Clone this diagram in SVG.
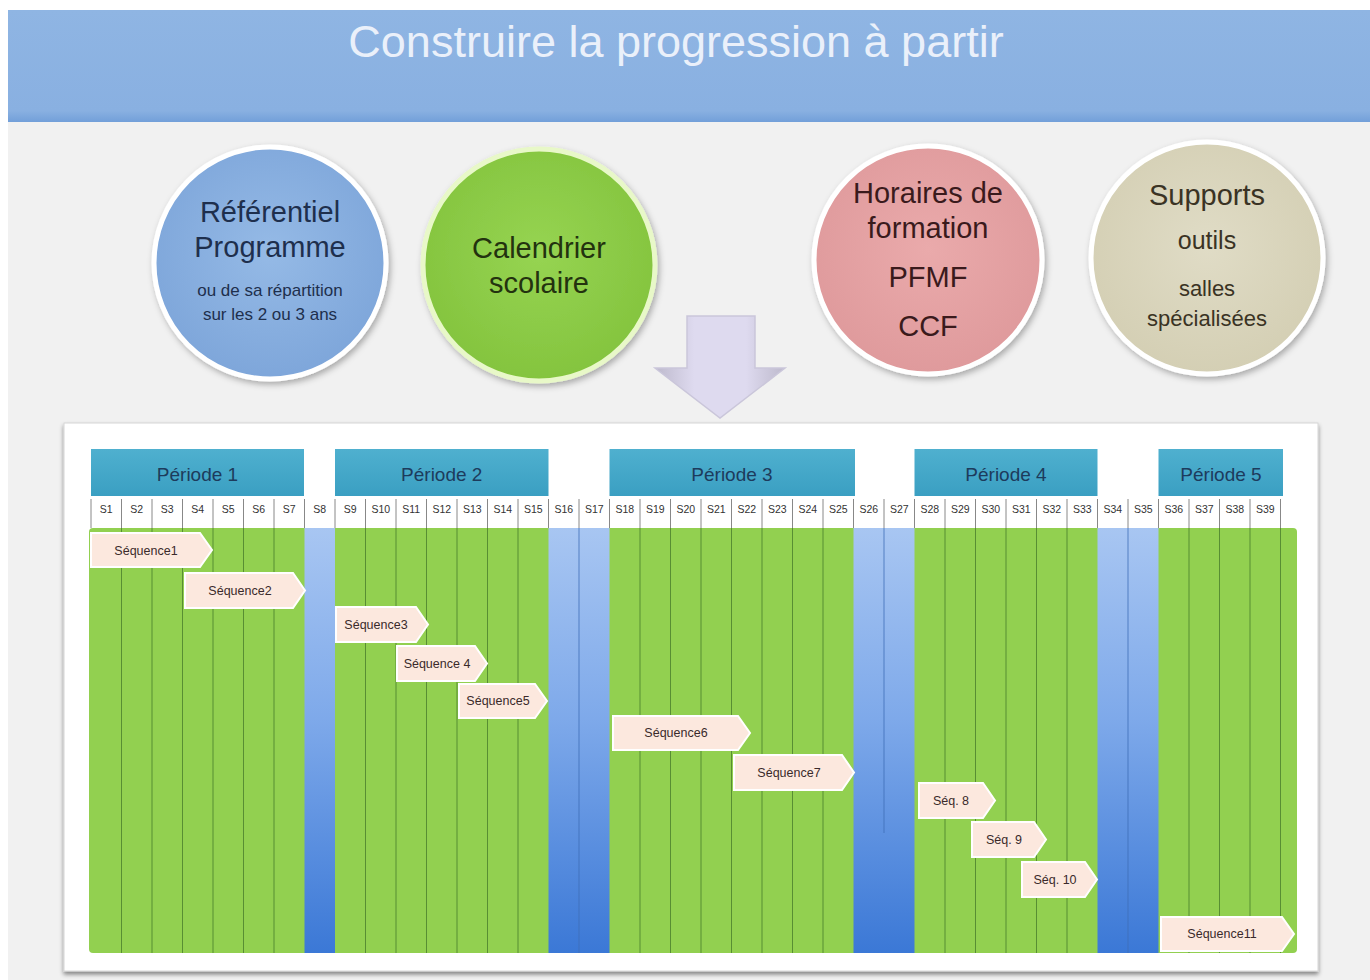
<svg xmlns="http://www.w3.org/2000/svg" width="1370" height="980" viewBox="0 0 1370 980">
<style>
.big{font-family:"Liberation Sans",Arial,sans-serif;font-size:29px;text-anchor:middle}
.small{font-family:"Liberation Sans",Arial,sans-serif;font-size:17px;text-anchor:middle}
.per{font-family:"Liberation Sans",Arial,sans-serif;font-size:19px;fill:#1d3b5c;text-anchor:middle}
.wk{font-family:"Liberation Sans",Arial,sans-serif;font-size:10.5px;fill:#333;text-anchor:middle}
.seqt{font-family:"Liberation Sans",Arial,sans-serif;font-size:12.5px;fill:#3a2a2a;text-anchor:middle}
.seq{fill:#fce8de;stroke:#ffffff;stroke-width:2}
.phead{fill:url(#gPer)}
.blue{fill:url(#gBlue)}
.ln{stroke:#4a7d2c;stroke-width:1;stroke-opacity:0.8}
.lnw{stroke:#888;stroke-width:1}
</style>
<defs>
<filter id="sh" x="-20%" y="-20%" width="140%" height="140%">
<feDropShadow dx="2" dy="3" stdDeviation="3" flood-color="#000" flood-opacity="0.3"/>
</filter>
<filter id="sh2" x="-5%" y="-5%" width="110%" height="110%">
<feDropShadow dx="0" dy="3" stdDeviation="2" flood-color="#000" flood-opacity="0.45"/>
</filter>
<radialGradient id="gB" cx="50%" cy="45%" r="55%"><stop offset="0" stop-color="#95bae6"/><stop offset="1" stop-color="#7ea6da"/></radialGradient>
<radialGradient id="gG" cx="50%" cy="45%" r="55%"><stop offset="0" stop-color="#96d452"/><stop offset="1" stop-color="#84c43e"/></radialGradient>
<radialGradient id="gP" cx="50%" cy="45%" r="55%"><stop offset="0" stop-color="#eaaaab"/><stop offset="1" stop-color="#df9a9c"/></radialGradient>
<radialGradient id="gS" cx="50%" cy="45%" r="55%"><stop offset="0" stop-color="#e0dcc6"/><stop offset="1" stop-color="#d4cfb4"/></radialGradient>
<linearGradient id="gPer" x1="0" y1="0" x2="0" y2="1"><stop offset="0" stop-color="#4fb0cf"/><stop offset="1" stop-color="#3a9fc2"/></linearGradient>
<linearGradient id="gBlue" x1="0" y1="0" x2="0" y2="1"><stop offset="0" stop-color="#a8c6f2"/><stop offset="0.45" stop-color="#7ea9ea"/><stop offset="1" stop-color="#3b78d6"/></linearGradient>
<linearGradient id="gArr" x1="0" y1="0" x2="1" y2="0"><stop offset="0" stop-color="#bdb9cc"/><stop offset="0.3" stop-color="#dedaef"/><stop offset="0.7" stop-color="#dedaef"/><stop offset="1" stop-color="#bdb9cc"/></linearGradient>
<linearGradient id="gTitle" x1="0" y1="0" x2="0" y2="1"><stop offset="0" stop-color="#8fb5e3"/><stop offset="0.9" stop-color="#89b0e1"/><stop offset="1" stop-color="#729fd9"/></linearGradient>
</defs>

<rect x="0" y="0" width="1370" height="980" fill="#ffffff"/>
<rect x="8" y="10" width="1362" height="970" fill="#f1f1f1"/>

<g id="title">
<rect x="8" y="10" width="1362" height="112" fill="url(#gTitle)"/>
<text x="676" y="57" style="font-family:'Liberation Sans',Arial,sans-serif;font-size:45px;fill:#eaf0fa;text-anchor:middle">Construire la progression à partir</text>
</g>

<g id="node-referentiel">
<circle cx="270" cy="263" r="116" fill="url(#gB)" stroke="#ffffff" stroke-width="5" filter="url(#sh)"/>
<text class="big" x="270" y="222" fill="#1e2f4d">Référentiel</text>
<text class="big" x="270" y="257" fill="#1e2f4d">Programme</text>
<text class="small" x="270" y="296" fill="#1e2f4d">ou de sa répartition</text>
<text class="small" x="270" y="320" fill="#1e2f4d">sur les 2 ou 3 ans</text>
</g>

<g id="node-calendrier">
<circle cx="539" cy="265" r="116" fill="url(#gG)" stroke="#e8f8c8" stroke-width="5" filter="url(#sh)"/>
<text class="big" x="539" y="258" fill="#23320f">Calendrier</text>
<text class="big" x="539" y="293" fill="#23320f">scolaire</text>
</g>

<g id="node-horaires">
<circle cx="928" cy="260" r="114" fill="url(#gP)" stroke="#ffffff" stroke-width="5" filter="url(#sh)"/>
<text class="big" x="928" y="203" fill="#3a1a1c">Horaires de</text>
<text class="big" x="928" y="238" fill="#3a1a1c">formation</text>
<text class="big" x="928" y="287" fill="#3a1a1c">PFMF</text>
<text class="big" x="928" y="336" fill="#3a1a1c">CCF</text>
</g>

<g id="node-supports">
<circle cx="1207" cy="258" r="116" fill="url(#gS)" stroke="#ffffff" stroke-width="5" filter="url(#sh)"/>
<text class="big" x="1207" y="205" fill="#3a3324">Supports</text>
<text x="1207" y="249" style="font-family:'Liberation Sans',Arial,sans-serif;font-size:25px;text-anchor:middle;fill:#3a3324">outils</text>
<text x="1207" y="296" style="font-family:'Liberation Sans',Arial,sans-serif;font-size:22px;text-anchor:middle;fill:#3a3324">salles</text>
<text x="1207" y="326" style="font-family:'Liberation Sans',Arial,sans-serif;font-size:22px;text-anchor:middle;fill:#3a3324">spécialisées</text>
</g>

<g id="connectors">
<path d="M687,316 H755 V368 H785 L720,418 L655,368 H687 Z" fill="url(#gArr)" stroke="#cac6da" stroke-width="1.5"/>
</g>

<g id="panel">
<rect x="64" y="423" width="1254" height="548" fill="#ffffff" stroke="#d6d6d6" stroke-width="1" filter="url(#sh2)"/>
</g>

<g id="weeks-grid">
<rect x="89" y="528" width="1208" height="425" rx="4" fill="#92d050"/>
<rect class="blue" x="304.5" y="528" width="30.5" height="425"/>
<rect class="blue" x="548.5" y="528" width="61" height="425"/>
<rect class="blue" x="853.5" y="528" width="61" height="425"/>
<rect class="blue" x="1097.5" y="528" width="61" height="425"/>
<g class="lnw">
<line x1="91" y1="499" x2="91" y2="528"/><line x1="121.5" y1="499" x2="121.5" y2="528"/><line x1="152" y1="499" x2="152" y2="528"/><line x1="182.5" y1="499" x2="182.5" y2="528"/><line x1="213" y1="499" x2="213" y2="528"/><line x1="243.5" y1="499" x2="243.5" y2="528"/><line x1="274" y1="499" x2="274" y2="528"/><line x1="304.5" y1="499" x2="304.5" y2="528"/><line x1="335" y1="499" x2="335" y2="528"/><line x1="365.5" y1="499" x2="365.5" y2="528"/><line x1="396" y1="499" x2="396" y2="528"/><line x1="426.5" y1="499" x2="426.5" y2="528"/><line x1="457" y1="499" x2="457" y2="528"/><line x1="487.5" y1="499" x2="487.5" y2="528"/><line x1="518" y1="499" x2="518" y2="528"/><line x1="548.5" y1="499" x2="548.5" y2="528"/><line x1="579" y1="499" x2="579" y2="528"/><line x1="609.5" y1="499" x2="609.5" y2="528"/><line x1="640" y1="499" x2="640" y2="528"/><line x1="670.5" y1="499" x2="670.5" y2="528"/><line x1="701" y1="499" x2="701" y2="528"/><line x1="731.5" y1="499" x2="731.5" y2="528"/><line x1="762" y1="499" x2="762" y2="528"/><line x1="792.5" y1="499" x2="792.5" y2="528"/><line x1="823" y1="499" x2="823" y2="528"/><line x1="853.5" y1="499" x2="853.5" y2="528"/><line x1="884" y1="499" x2="884" y2="528"/><line x1="914.5" y1="499" x2="914.5" y2="528"/><line x1="945" y1="499" x2="945" y2="528"/><line x1="975.5" y1="499" x2="975.5" y2="528"/><line x1="1006" y1="499" x2="1006" y2="528"/><line x1="1036.5" y1="499" x2="1036.5" y2="528"/><line x1="1067" y1="499" x2="1067" y2="528"/><line x1="1097.5" y1="499" x2="1097.5" y2="528"/><line x1="1128" y1="499" x2="1128" y2="528"/><line x1="1158.5" y1="499" x2="1158.5" y2="528"/><line x1="1189" y1="499" x2="1189" y2="528"/><line x1="1219.5" y1="499" x2="1219.5" y2="528"/><line x1="1250" y1="499" x2="1250" y2="528"/><line x1="1280.5" y1="499" x2="1280.5" y2="528"/>
</g>
<g class="ln">
<line x1="121.5" y1="528" x2="121.5" y2="953"/><line x1="152" y1="528" x2="152" y2="953"/><line x1="182.5" y1="528" x2="182.5" y2="953"/><line x1="213" y1="528" x2="213" y2="953"/><line x1="243.5" y1="528" x2="243.5" y2="953"/><line x1="274" y1="528" x2="274" y2="953"/><line x1="365.5" y1="528" x2="365.5" y2="953"/><line x1="396" y1="528" x2="396" y2="953"/><line x1="426.5" y1="528" x2="426.5" y2="953"/><line x1="457" y1="528" x2="457" y2="953"/><line x1="487.5" y1="528" x2="487.5" y2="953"/><line x1="518" y1="528" x2="518" y2="953"/><line x1="579" y1="528" x2="579" y2="953" stroke="#3f6fb8"/><line x1="640" y1="528" x2="640" y2="953"/><line x1="670.5" y1="528" x2="670.5" y2="953"/><line x1="701" y1="528" x2="701" y2="953"/><line x1="731.5" y1="528" x2="731.5" y2="953"/><line x1="762" y1="528" x2="762" y2="953"/><line x1="792.5" y1="528" x2="792.5" y2="953"/><line x1="823" y1="528" x2="823" y2="953"/><line x1="884" y1="528" x2="884" y2="833" stroke="#3f6fb8"/><line x1="945" y1="528" x2="945" y2="953"/><line x1="975.5" y1="528" x2="975.5" y2="953"/><line x1="1006" y1="528" x2="1006" y2="953"/><line x1="1036.5" y1="528" x2="1036.5" y2="953"/><line x1="1067" y1="528" x2="1067" y2="953"/><line x1="1128" y1="528" x2="1128" y2="953" stroke="#3f6fb8"/><line x1="1189" y1="528" x2="1189" y2="953"/><line x1="1219.5" y1="528" x2="1219.5" y2="953"/><line x1="1250" y1="528" x2="1250" y2="953"/><line x1="1280.5" y1="528" x2="1280.5" y2="953"/>
</g>
<g>
<text class="wk" x="106.25" y="513">S1</text><text class="wk" x="136.75" y="513">S2</text><text class="wk" x="167.25" y="513">S3</text><text class="wk" x="197.75" y="513">S4</text><text class="wk" x="228.25" y="513">S5</text><text class="wk" x="258.75" y="513">S6</text><text class="wk" x="289.25" y="513">S7</text><text class="wk" x="319.75" y="513">S8</text><text class="wk" x="350.25" y="513">S9</text><text class="wk" x="380.75" y="513">S10</text><text class="wk" x="411.25" y="513">S11</text><text class="wk" x="441.75" y="513">S12</text><text class="wk" x="472.25" y="513">S13</text><text class="wk" x="502.75" y="513">S14</text><text class="wk" x="533.25" y="513">S15</text><text class="wk" x="563.75" y="513">S16</text><text class="wk" x="594.25" y="513">S17</text><text class="wk" x="624.75" y="513">S18</text><text class="wk" x="655.25" y="513">S19</text><text class="wk" x="685.75" y="513">S20</text><text class="wk" x="716.25" y="513">S21</text><text class="wk" x="746.75" y="513">S22</text><text class="wk" x="777.25" y="513">S23</text><text class="wk" x="807.75" y="513">S24</text><text class="wk" x="838.25" y="513">S25</text><text class="wk" x="868.75" y="513">S26</text><text class="wk" x="899.25" y="513">S27</text><text class="wk" x="929.75" y="513">S28</text><text class="wk" x="960.25" y="513">S29</text><text class="wk" x="990.75" y="513">S30</text><text class="wk" x="1021.25" y="513">S31</text><text class="wk" x="1051.75" y="513">S32</text><text class="wk" x="1082.25" y="513">S33</text><text class="wk" x="1112.75" y="513">S34</text><text class="wk" x="1143.25" y="513">S35</text><text class="wk" x="1173.75" y="513">S36</text><text class="wk" x="1204.25" y="513">S37</text><text class="wk" x="1234.75" y="513">S38</text><text class="wk" x="1265.25" y="513">S39</text>
</g>
</g>

<g id="periode-1"><rect class="phead" x="91" y="449" width="213" height="47"/><text class="per" x="197.5" y="481">Période 1</text></g>
<g id="periode-2"><rect class="phead" x="335" y="449" width="213.5" height="47"/><text class="per" x="441.75" y="481">Période 2</text></g>
<g id="periode-3"><rect class="phead" x="609.5" y="449" width="245.5" height="47"/><text class="per" x="732" y="481">Période 3</text></g>
<g id="periode-4"><rect class="phead" x="914.5" y="449" width="183" height="47"/><text class="per" x="1006" y="481">Période 4</text></g>
<g id="periode-5"><rect class="phead" x="1158.5" y="449" width="124.5" height="47"/><text class="per" x="1221" y="481">Période 5</text></g>

<g id="seq-1"><path class="seq" d="M91,533 H200 L212,550 L200,567 H91 Z"/><text class="seqt" x="146" y="555">Séquence1</text></g>
<g id="seq-2"><path class="seq" d="M185,573 H293 L305,590.5 L293,608 H185 Z"/><text class="seqt" x="240" y="595">Séquence2</text></g>
<g id="seq-3"><path class="seq" d="M336,607 H416 L428,624.5 L416,642 H336 Z"/><text class="seqt" x="376" y="629">Séquence3</text></g>
<g id="seq-4"><path class="seq" d="M397,646 H475 L487,663.5 L475,681 H397 Z"/><text class="seqt" x="437" y="668">Séquence 4</text></g>
<g id="seq-5"><path class="seq" d="M459,684 H535 L547,701 L535,718 H459 Z"/><text class="seqt" x="498" y="705">Séquence5</text></g>
<g id="seq-6"><path class="seq" d="M613,716 H738 L750,733 L738,750 H613 Z"/><text class="seqt" x="676" y="737">Séquence6</text></g>
<g id="seq-7"><path class="seq" d="M734,755 H842 L854,772.5 L842,790 H734 Z"/><text class="seqt" x="789" y="777">Séquence7</text></g>
<g id="seq-8"><path class="seq" d="M919,783 H983 L995,800.5 L983,818 H919 Z"/><text class="seqt" x="951" y="805">Séq. 8</text></g>
<g id="seq-9"><path class="seq" d="M972,822 H1034 L1046,839.5 L1034,857 H972 Z"/><text class="seqt" x="1004" y="844">Séq. 9</text></g>
<g id="seq-10"><path class="seq" d="M1022,862 H1085 L1097,879.5 L1085,897 H1022 Z"/><text class="seqt" x="1055" y="884">Séq. 10</text></g>
<g id="seq-11"><path class="seq" d="M1161,917 H1282 L1294,934 L1282,951 H1161 Z"/><text class="seqt" x="1222" y="938">Séquence11</text></g>
</svg>
